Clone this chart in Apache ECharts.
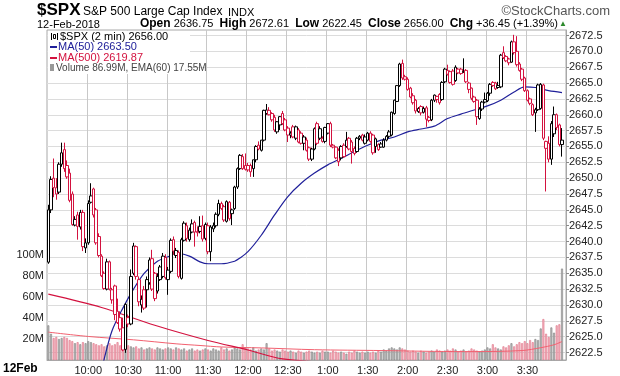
<!DOCTYPE html>
<html>
<head>
<meta charset="utf-8">
<script src="https://cdn.jsdelivr.net/npm/echarts@6/dist/echarts.min.js"></script>
<style>
  html, body { margin: 0; padding: 0; background: #fff; }
  #chart { width: 620px; height: 376px; }
</style>
</head>
<body>
<div id="chart"></div>
<script>
// 2-min bars, 12-Feb-2018, 9:30 .. 3:56
const opens = [
  2636.75, 2645.0, 2650.0, 2648.5, 2647.8, 2652.2, 2654.5, 2652.0, 2650.8, 2647.5,
  2642.6, 2644.2, 2642.3, 2644.6, 2639.0, 2639.8, 2646.2, 2648.3, 2645.0, 2640.8,
  2637.7, 2635.0, 2632.5, 2636.8, 2630.8, 2633.0, 2629.0, 2628.0, 2626.4, 2623.0,
  2628.0, 2627.0, 2635.0, 2639.2, 2634.0, 2630.0, 2632.4, 2632.4, 2633.5, 2637.3,
  2635.0, 2632.2, 2634.0, 2634.5, 2637.5, 2634.0, 2635.3, 2640.3, 2637.8, 2638.3,
  2634.2, 2640.2, 2642.5, 2640.3, 2641.5, 2643.0, 2641.6, 2642.4, 2642.5, 2640.5,
  2642.5, 2638.4, 2642.0, 2642.5, 2644.3, 2646.0, 2645.5, 2643.2, 2646.2, 2644.4,
  2645.2, 2648.6, 2651.5, 2653.4, 2652.0, 2652.0, 2652.0, 2651.5, 2652.9, 2655.2,
  2654.4, 2656.0, 2660.2, 2660.7, 2660.2, 2659.6, 2657.3, 2658.4, 2660.2, 2659.2,
  2657.9, 2657.1, 2658.1, 2656.3, 2657.6, 2657.1, 2656.5, 2656.0, 2654.8, 2653.0,
  2654.6, 2658.6, 2657.8, 2656.3, 2655.8, 2657.1, 2658.6, 2655.2, 2654.9, 2654.4,
  2653.2, 2655.2, 2655.0, 2656.3, 2655.7, 2654.7, 2654.2, 2656.6, 2656.8, 2655.5,
  2656.0, 2657.1, 2656.8, 2655.0, 2655.3, 2655.4, 2654.9, 2656.0, 2656.6, 2656.8,
  2660.2, 2662.1, 2664.6, 2668.1, 2666.0, 2665.6, 2664.2, 2663.0, 2662.3, 2660.5,
  2661.3, 2660.4, 2661.1, 2659.6, 2659.2, 2662.3, 2662.4, 2663.2, 2662.4, 2665.2,
  2667.0, 2666.8, 2666.9, 2665.4, 2667.2, 2667.2, 2666.8, 2667.0, 2665.0, 2664.2,
  2662.8, 2662.3, 2659.4, 2660.9, 2662.4, 2662.2, 2663.4, 2665.1, 2665.0, 2664.6,
  2664.4, 2669.8, 2669.2, 2668.8, 2668.3, 2671.5, 2670.0, 2668.0, 2667.2, 2665.8,
  2663.8, 2662.5, 2661.6, 2660.8, 2660.8, 2661.0, 2664.7, 2654.7, 2655.5, 2653.0,
  2657.0, 2660.0, 2658.4, 2655.3
];
const highs = [
  2645.8, 2650.3, 2653.1, 2650.0, 2652.5, 2655.6, 2655.6, 2652.8, 2651.5, 2647.9,
  2644.0, 2644.7, 2645.0, 2645.0, 2640.5, 2646.5, 2649.2, 2648.5, 2645.3, 2641.3,
  2638.0, 2635.3, 2637.3, 2637.0, 2632.7, 2633.2, 2631.0, 2629.0, 2628.0, 2630.3,
  2628.5, 2635.6, 2639.8, 2639.4, 2634.5, 2631.5, 2633.0, 2634.5, 2637.5, 2638.7,
  2635.2, 2635.0, 2636.3, 2638.2, 2638.0, 2636.0, 2640.5, 2640.8, 2639.0, 2638.6,
  2640.6, 2643.2, 2643.0, 2642.2, 2643.5, 2643.3, 2642.4, 2644.0, 2644.1, 2643.0,
  2643.0, 2642.6, 2643.0, 2644.6, 2646.6, 2646.3, 2645.8, 2646.5, 2646.4, 2645.2,
  2648.8, 2651.7, 2653.8, 2653.8, 2653.9, 2652.4, 2652.3, 2652.9, 2655.2, 2655.8,
  2656.0, 2660.8, 2661.7, 2661.2, 2660.4, 2660.0, 2659.0, 2659.8, 2660.6, 2659.5,
  2658.2, 2657.4, 2658.4, 2658.3, 2657.9, 2657.4, 2656.8, 2656.4, 2655.0, 2654.8,
  2658.0, 2658.9, 2658.2, 2656.6, 2658.1, 2658.7, 2658.9, 2655.4, 2655.0, 2654.7,
  2655.2, 2655.5, 2657.3, 2656.5, 2656.0, 2655.0, 2656.5, 2656.8, 2657.0, 2656.9,
  2657.3, 2657.4, 2657.0, 2656.4, 2655.5, 2655.7, 2656.3, 2656.8, 2657.6, 2660.5,
  2662.4, 2664.7, 2668.2, 2668.7, 2666.3, 2665.9, 2664.4, 2663.4, 2662.5, 2661.2,
  2661.5, 2661.3, 2661.4, 2659.8, 2662.5, 2663.2, 2663.0, 2663.4, 2665.3, 2667.4,
  2667.9, 2667.0, 2667.2, 2667.8, 2667.4, 2667.4, 2668.9, 2667.2, 2665.2, 2664.3,
  2663.0, 2662.5, 2661.2, 2662.2, 2663.5, 2663.6, 2665.0, 2665.3, 2665.2, 2665.2,
  2669.6, 2670.8, 2669.4, 2669.0, 2671.7, 2672.61, 2672.4, 2668.3, 2667.4, 2666.0,
  2664.0, 2662.7, 2661.8, 2661.1, 2664.9, 2665.0, 2664.9, 2655.9, 2656.6, 2659.0,
  2661.3, 2660.2, 2658.6, 2657.9
];
const lows = [
  2636.5, 2644.5, 2647.0, 2646.6, 2647.5, 2651.8, 2651.0, 2649.9, 2646.2, 2642.5,
  2642.4, 2640.3, 2641.9, 2638.5, 2638.2, 2639.5, 2646.0, 2643.8, 2639.5, 2637.5,
  2634.4, 2632.4, 2632.3, 2632.3, 2630.2, 2627.6, 2627.0, 2625.8, 2622.7, 2622.45,
  2626.5, 2626.8, 2634.7, 2634.0, 2629.8, 2628.8, 2629.2, 2629.6, 2633.2, 2632.2,
  2630.6, 2631.8, 2633.8, 2634.2, 2634.0, 2631.6, 2635.0, 2637.9, 2637.4, 2634.2,
  2634.0, 2640.0, 2640.0, 2640.0, 2641.3, 2639.2, 2640.8, 2641.3, 2640.0, 2640.2,
  2638.0, 2636.9, 2641.5, 2642.2, 2644.0, 2645.0, 2643.1, 2643.0, 2643.3, 2642.6,
  2645.0, 2648.3, 2651.3, 2651.3, 2651.2, 2651.0, 2650.2, 2650.2, 2652.5, 2654.4,
  2654.2, 2655.8, 2660.0, 2659.9, 2658.9, 2657.3, 2657.0, 2657.6, 2658.4, 2657.4,
  2655.7, 2656.3, 2656.3, 2656.0, 2655.5, 2655.3, 2654.4, 2654.2, 2652.7, 2652.7,
  2654.4, 2655.2, 2656.0, 2655.6, 2655.5, 2656.9, 2654.9, 2654.7, 2653.0, 2651.9,
  2652.8, 2653.2, 2654.8, 2654.4, 2652.3, 2653.6, 2654.0, 2656.0, 2655.8, 2655.3,
  2655.8, 2655.6, 2653.7, 2654.0, 2654.3, 2654.8, 2654.8, 2655.8, 2656.3, 2656.6,
  2660.0, 2662.0, 2664.4, 2665.5, 2665.4, 2663.8, 2662.6, 2661.6, 2660.2, 2660.3,
  2659.9, 2660.2, 2658.1, 2658.8, 2659.0, 2662.0, 2661.9, 2661.6, 2662.2, 2665.0,
  2666.2, 2664.9, 2664.6, 2665.2, 2666.4, 2666.3, 2666.6, 2665.0, 2663.4, 2662.3,
  2661.9, 2658.4, 2659.2, 2660.6, 2661.8, 2662.0, 2663.0, 2664.4, 2663.9, 2664.1,
  2664.2, 2668.8, 2668.3, 2667.8, 2668.2, 2669.5, 2667.6, 2666.8, 2665.3, 2663.6,
  2662.1, 2661.5, 2659.8, 2657.3, 2660.6, 2660.8, 2656.0, 2647.9, 2652.5, 2652.1,
  2656.5, 2657.6, 2655.0, 2653.4
];
const closes = [
  2645.0, 2649.8, 2648.5, 2647.5, 2652.2, 2654.0, 2651.5, 2650.2, 2646.5, 2642.7,
  2643.5, 2642.4, 2644.6, 2639.2, 2639.8, 2646.0, 2647.2, 2644.2, 2639.8, 2637.8,
  2634.6, 2632.6, 2636.8, 2632.5, 2632.4, 2628.5, 2627.2, 2626.2, 2622.9, 2630.1,
  2627.0, 2634.5, 2639.3, 2634.5, 2630.5, 2630.9, 2629.5, 2634.0, 2637.1, 2632.5,
  2631.0, 2634.5, 2636.0, 2637.7, 2634.3, 2635.5, 2640.2, 2638.5, 2638.6, 2634.5,
  2640.3, 2642.9, 2640.5, 2641.8, 2642.8, 2641.5, 2641.4, 2641.6, 2640.4, 2642.7,
  2638.4, 2642.3, 2642.5, 2644.3, 2646.0, 2645.2, 2643.4, 2646.3, 2643.6, 2645.0,
  2648.6, 2651.5, 2653.6, 2651.5, 2651.4, 2651.3, 2651.0, 2652.9, 2655.0, 2654.6,
  2656.0, 2660.7, 2660.75, 2660.0, 2659.2, 2657.6, 2658.9, 2659.7, 2658.6, 2657.6,
  2656.8, 2656.8, 2656.5, 2658.1, 2655.7, 2655.5, 2655.5, 2654.4, 2653.0, 2654.6,
  2657.8, 2655.5, 2656.3, 2655.8, 2658.0, 2658.6, 2655.2, 2654.9, 2653.2, 2652.6,
  2655.0, 2653.4, 2656.0, 2654.6, 2654.2, 2653.9, 2656.3, 2656.3, 2656.0, 2656.5,
  2657.1, 2655.8, 2654.0, 2656.2, 2654.5, 2654.9, 2656.0, 2656.6, 2657.3, 2660.4,
  2662.3, 2664.6, 2668.0, 2665.8, 2665.6, 2664.0, 2662.8, 2661.9, 2660.6, 2661.0,
  2660.3, 2661.0, 2659.3, 2659.1, 2662.3, 2663.1, 2662.9, 2661.9, 2665.1, 2667.2,
  2666.4, 2665.1, 2664.8, 2667.5, 2666.6, 2666.5, 2666.7, 2665.2, 2664.0, 2662.6,
  2662.1, 2659.7, 2660.9, 2662.0, 2662.0, 2663.4, 2664.8, 2664.6, 2664.1, 2664.3,
  2669.4, 2669.0, 2668.5, 2668.2, 2671.5, 2669.8, 2667.9, 2667.0, 2665.6, 2663.8,
  2662.3, 2661.8, 2660.0, 2660.3, 2664.7, 2664.8, 2656.3, 2655.8, 2653.0, 2658.6,
  2660.0, 2658.0, 2655.3, 2656.0
];
// volume, millions of shares
const volumes = [
  33, 25, 21, 22, 20, 21, 22, 21, 19, 18, 16, 17, 15, 17, 16,
  18, 17, 16, 15, 14, 15, 13, 14, 16, 14, 15, 17, 14, 19, 15,
  14, 13, 12, 13, 11, 12, 10, 11, 12, 11, 10, 12, 11, 10, 11,
  12, 11, 10, 12, 11, 10, 11, 9, 10, 11, 9, 10, 9, 10, 11,
  10, 9, 11, 10, 9, 12, 10, 11, 9, 10, 12, 11, 10, 15, 12,
  11, 10, 12, 9, 10, 11, 10, 16, 11, 9, 10, 9, 8, 10, 9,
  8, 9, 8, 7, 9, 8, 7, 8, 9, 8, 7, 8, 7, 9, 8,
  8, 7, 9, 8, 7, 8, 7, 6, 8, 7, 9, 8, 7, 8, 7,
  8, 7, 8, 7, 9, 8, 10, 9, 11, 12, 11, 10, 12, 11, 10,
  9, 8, 9, 8, 7, 9, 8, 7, 8, 9, 8, 10, 9, 8, 9,
  10, 9, 11, 10, 8, 9, 10, 8, 9, 11, 10, 9, 8, 9, 10,
  12, 11, 15, 12, 11, 10, 13, 12, 14, 16, 13, 15, 17, 16, 18,
  16, 19, 17, 20, 19, 30, 39, 25, 22, 31, 26, 33, 34, 87
];
// overlays read at sample bars: [bar index, value]
const ma50 = [
  [19, 2617.5], [21, 2621.5], [24, 2626.0], [28, 2629.5], [32, 2632.5], [36, 2635.0],
  [41, 2636.9], [45, 2637.6], [48, 2638.2], [53, 2637.7], [57, 2636.8], [60, 2636.5],
  [65, 2636.5], [70, 2636.9], [72, 2637.4], [75, 2638.4], [80, 2641.0], [85, 2644.2],
  [90, 2647.1], [95, 2649.2], [100, 2650.8], [105, 2652.1], [110, 2653.1], [115, 2654.2],
  [120, 2655.2], [125, 2656.0], [130, 2656.5], [135, 2657.3], [140, 2657.75], [145, 2658.2],
  [150, 2659.4], [155, 2660.1], [160, 2660.75], [165, 2661.4], [170, 2662.3], [175, 2663.6],
  [179, 2664.4], [183, 2664.3], [188, 2663.8], [193, 2663.5]
];
const ma500 = [
  [0, 2631.7], [20, 2629.6], [40, 2626.8], [60, 2624.4], [75, 2622.9], [88, 2621.5],
  [120, 2620.6], [193, 2619.87]
];
const volEma = [
  [0, 26.5], [15, 22.4], [32, 19.2], [48, 15.4], [57, 13.8], [65, 12.4], [80, 11.5],
  [100, 9.8], [125, 9.0], [145, 8.2], [160, 8.0], [178, 9.0], [185, 11.7], [190, 14.5],
  [193, 17.55]
];
const priceTicks = [2622.5, 2625, 2627.5, 2630, 2632.5, 2635, 2637.5, 2640, 2642.5, 2645,
  2647.5, 2650, 2652.5, 2655, 2657.5, 2660, 2662.5, 2665, 2667.5, 2670, 2672.5];
const volTicks = [20, 40, 60, 80, 100];
const timeLabels = ['10:00', '10:30', '11:00', '11:30', '12:00', '12:30', '1:00',
  '1:30', '2:00', '2:30', '3:00', '3:30'];
const prevClose = 2619.55;

const RED = '#d3123f';
const BLACK = '#000';

// one slot per 2-min bar from 9:30 to 3:58
const slots = [];
for (let i = 0; i < 195; i++) slots.push(String(i));
const onHalfHour = (i) => i > 0 && i % 15 === 0;

const candles = opens.map((o, i) => {
  const pc = i > 0 ? closes[i - 1] : prevClose;
  const col = closes[i] >= pc ? BLACK : RED;
  return {
    value: [o, closes[i], lows[i], highs[i]],
    itemStyle: { color: '#fff', color0: col, borderColor: col, borderColor0: col }
  };
});
const volBars = volumes.map((v, i) => {
  const pc = i > 0 ? closes[i - 1] : prevClose;
  const up = closes[i] >= pc;
  return {
    value: v,
    itemStyle: up
      ? { color: '#bdbdbd', borderColor: '#8a8a8a' }
      : { color: '#f3b9c3', borderColor: '#e27d8f' }
  };
});

const chart = echarts.init(document.getElementById('chart'));
const FONT = '"Liberation Sans", Arial, sans-serif';

chart.setOption({
  animation: false,
  backgroundColor: '#fff',
  textStyle: { fontFamily: FONT },
  grid: { left: 47, right: 54, top: 30, bottom: 16, show: true, borderColor: '#a8a8a8', borderWidth: 1 },
  xAxis: {
    type: 'category',
    data: slots,
    boundaryGap: true,
    axisLine: { lineStyle: { color: '#a8a8a8' } },
    axisTick: { show: false, interval: (i) => onHalfHour(i) },
    axisLabel: {
      interval: (i) => onHalfHour(i),
      formatter: (v, i) => timeLabels[i / 15 - 1] || '',
      color: '#222', fontSize: 11, fontFamily: FONT, margin: 5
    },
    splitLine: { show: true, interval: (i) => onHalfHour(i), lineStyle: { color: '#c8c8c8', width: 1 } }
  },
  yAxis: [
    {
      type: 'value',
      position: 'right',
      min: 2621.32,
      max: 2673.37,
      axisLine: { show: true, lineStyle: { color: '#a8a8a8' } },
      axisTick: { show: true, length: 3, customValues: priceTicks, lineStyle: { color: '#888' } },
      axisLabel: {
        customValues: priceTicks,
        formatter: (v) => v.toFixed(1),
        color: '#222', fontSize: 11, fontFamily: FONT, margin: 3
      },
      splitLine: { show: true, lineStyle: { color: '#dcdcdc', width: 1 } }
    },
    {
      type: 'value',
      position: 'left',
      min: 0,
      max: 314,
      axisLine: { show: false },
      axisTick: { show: false, customValues: volTicks },
      axisLabel: {
        customValues: volTicks,
        formatter: (v) => v + 'M',
        color: '#222', fontSize: 11, fontFamily: FONT, margin: 3
      },
      splitLine: { show: false }
    }
  ],
  series: [
    {
      type: 'bar',
      yAxisIndex: 1,
      data: volBars,
      barWidth: 2,
      itemStyle: { borderWidth: 0.7 },
      z: 1
    },
    {
      type: 'line',
      yAxisIndex: 1,
      data: volEma,
      showSymbol: false,
      smooth: 0.3,
      lineStyle: { color: '#f2606f', width: 1 },
      z: 2
    },
    {
      type: 'line',
      data: ma500,
      showSymbol: false,
      smooth: 0.3,
      lineStyle: { color: '#d3123f', width: 1.2 },
      z: 3
    },
    {
      type: 'line',
      data: ma50,
      showSymbol: false,
      smooth: 0.3,
      lineStyle: { color: '#20209a', width: 1.2 },
      z: 3
    },
    {
      type: 'candlestick',
      data: candles,
      barWidth: 3,
      itemStyle: { borderWidth: 1 },
      z: 4
    }
  ],
  graphic: [
    // header
    { type: 'text', left: 37, top: 2, style: { text: '$SPX', font: 'bold 17px ' + FONT, fill: '#000' } },
    { type: 'text', left: 83, top: 6, style: { text: 'S&P 500 Large Cap Index', font: '12px ' + FONT, fill: '#000' } },
    { type: 'text', left: 228, top: 7, style: { text: 'INDX', font: '11px ' + FONT, fill: '#000' } },
    { type: 'text', right: 10, top: 5, style: { text: '\u00A9StockCharts.com', font: '13px ' + FONT, fill: '#555' } },
    { type: 'text', left: 37, top: 19, style: { text: '12-Feb-2018', font: '11px ' + FONT, fill: '#000' } },
    {
      type: 'text', right: 62, top: 18,
      style: {
        text: '{b|Open} 2636.75  {b|High} 2672.61  {b|Low} 2622.45  {b|Close} 2656.00  {b|Chg} +36.45 (+1.39%)',
        font: '11px ' + FONT, fill: '#000',
        rich: { b: { font: 'bold 12px ' + FONT, fill: '#000' } }
      }
    },
    { type: 'text', right: 53, top: 20, style: { text: '\u25B2', font: '8px ' + FONT, fill: '#2c8a2c' } },
    // legend box
    { type: 'rect', left: 48, top: 31, shape: { width: 142, height: 43 }, style: { fill: '#fff' }, z: 50 },
    { type: 'rect', left: 51, top: 33, shape: { width: 1, height: 7 }, style: { fill: '#000' }, z: 51 },
    { type: 'rect', left: 53, top: 34, shape: { width: 2, height: 4 }, style: { fill: '#fff', stroke: '#000', lineWidth: 1 }, z: 51 },
    { type: 'rect', left: 57, top: 33, shape: { width: 1, height: 7 }, style: { fill: '#000' }, z: 51 },
    { type: 'text', left: 60, top: 31, z: 51, style: { text: '$SPX (2 min) 2656.00', font: '11px ' + FONT, fill: '#000' } },
    { type: 'rect', left: 50, top: 46, shape: { width: 7, height: 2 }, style: { fill: '#20209a' }, z: 51 },
    { type: 'text', left: 58, top: 41, z: 51, style: { text: 'MA(50) 2663.50', font: '11px ' + FONT, fill: '#20209a' } },
    { type: 'rect', left: 50, top: 57, shape: { width: 7, height: 2 }, style: { fill: '#d3123f' }, z: 51 },
    { type: 'text', left: 58, top: 52, z: 51, style: { text: 'MA(500) 2619.87', font: '11px ' + FONT, fill: '#d3123f' } },
    { type: 'rect', left: 50, top: 64, shape: { width: 4, height: 7 }, style: { fill: '#999' }, z: 51 },
    { type: 'text', left: 56, top: 63, z: 51, style: { text: 'Volume 86.99M, EMA(60) 17.55M', font: '10px ' + FONT, fill: '#444' } },
    // session date at the left of the time axis
    { type: 'text', left: 3, top: 363, style: { text: '12Feb', font: 'bold 12px ' + FONT, fill: '#000' } }
  ]
});
</script>
</body>
</html>
